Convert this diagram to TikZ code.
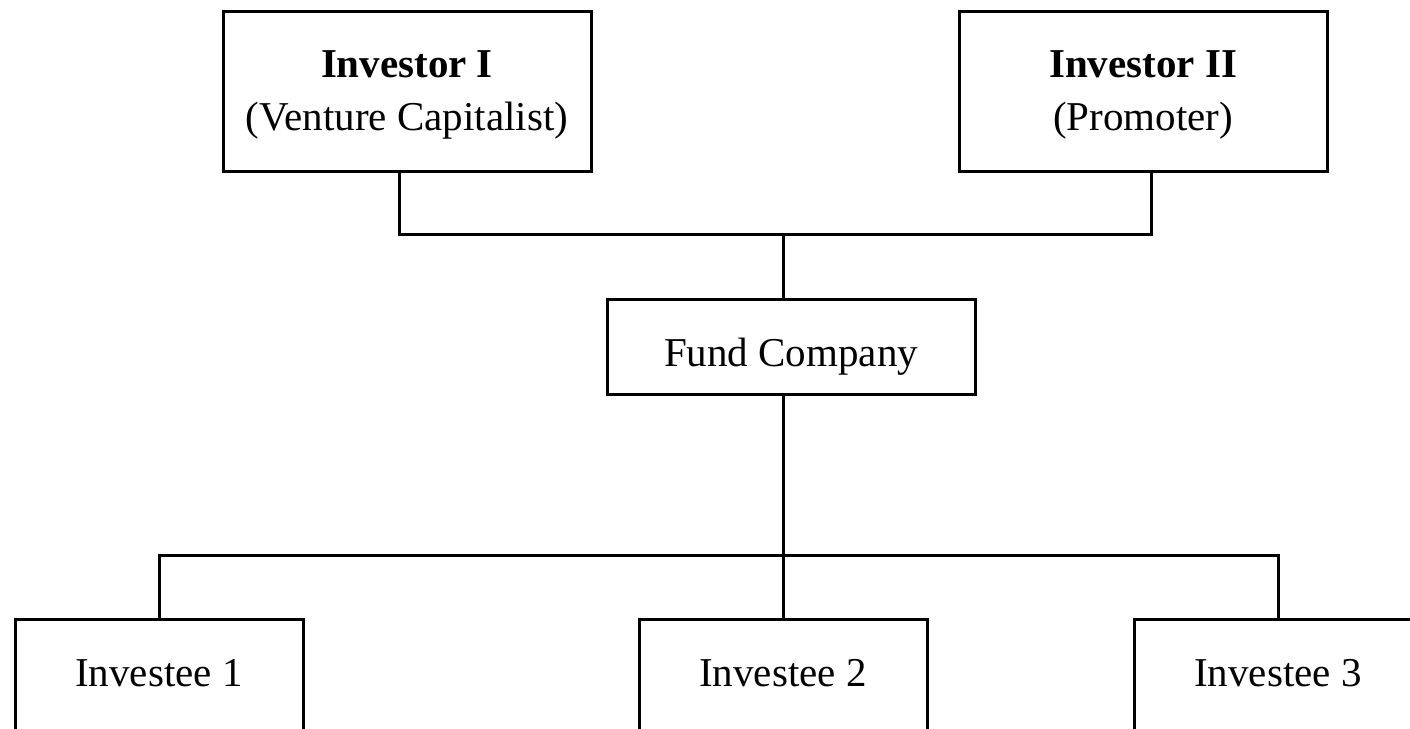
\documentclass[tikz,border=0pt]{standalone}
\usepackage{fontspec}
\setmainfont{Liberation Serif}
\begin{document}
\begin{tikzpicture}[x=1pt,y=-1pt,
  box/.style={draw=black,line width=3pt,rectangle,inner sep=0pt},
  txt/.style={inner sep=0pt,align=center,font=\fontsize{41}{53}\selectfont},
  conn/.style={draw=black,line width=3pt}]
\useasboundingbox[clip] (0,0) rectangle (1410,728);
\fill[white] (0,0) rectangle (1410,728);
\node[box,minimum width=368pt,minimum height=160pt] (inv1) at (407,91) {};
\node[box,minimum width=368pt,minimum height=160pt] (inv2) at (1143,91) {};
\node[box,minimum width=368pt,minimum height=95pt] (fund) at (791,346.5) {};
\node[box,minimum width=288pt,minimum height=114pt] (ie1) at (159,676) {};
\node[box,minimum width=288pt,minimum height=114pt] (ie2) at (783,676) {};
\node[box,minimum width=288pt,minimum height=114pt] (ie3) at (1278,676) {};
\node[txt] (t1) at ([yshift=-4pt]inv1.center) {\textbf{Investor I}\\(Venture Capitalist)};
\node[txt] (t2) at ([yshift=-4pt]inv2.center) {\textbf{Investor II}\\(Promoter)};
\node[txt] (t3) at ([yshift=-10pt]fund.center) {Fund Company};
\node[txt] (t4) at ([yshift=3pt]ie1.center) {Investee 1};
\node[txt] (t5) at ([yshift=3pt]ie2.center) {Investee 2};
\node[txt] (t6) at ([yshift=3pt]ie3.center) {Investee 3};
\coordinate (top) at (783,234);
\coordinate (bot) at (783,555);
\draw[conn] ([xshift=-8pt]inv1.south) |- (top);
\draw[conn] ([xshift=8pt]inv2.south) |- (top);
\draw[conn] (top) -- ([xshift=-8pt]fund.north);
\draw[conn] ([xshift=-8pt]fund.south) -- (bot);
\draw[conn] (bot) -| (ie1.north);
\draw[conn] (bot) -- (ie2.north);
\draw[conn] (bot) -| (ie3.north);
\end{tikzpicture}
\end{document}
